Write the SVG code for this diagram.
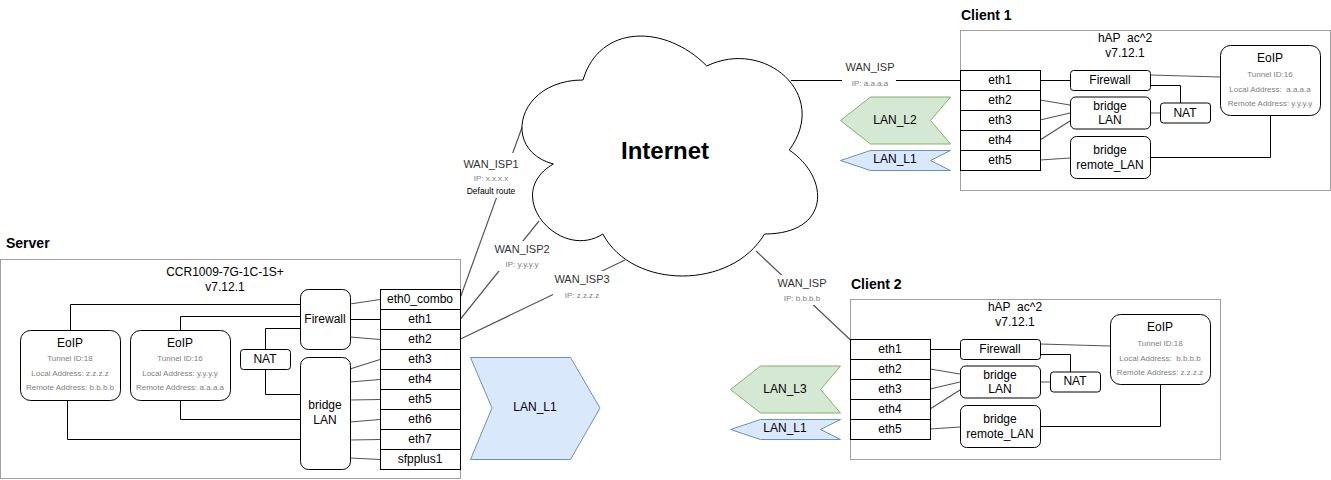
<svg xmlns="http://www.w3.org/2000/svg" width="1331" height="480" viewBox="0 0 1331 480">
<style>
text{font-family:"Liberation Sans",Arial,sans-serif;text-anchor:middle;dominant-baseline:central;fill:#000;font-size:12px;white-space:pre}
.t{font-weight:700;font-size:14px;text-anchor:start}
.net{font-weight:700;font-size:24px}
.w{font-size:11px;fill:#333}
.s{font-size:8px;fill:#808080}
.k{font-size:8.500px;fill:#000}
.box{fill:#fff;stroke:#000;stroke-width:1}
.r{fill:#fff;stroke:#000;stroke-width:1}
.frame{fill:#fff;stroke:#a0a0a0;stroke-width:1}
.c{fill:none;stroke:#000;stroke-width:1}
.d{fill:none;stroke:#555;stroke-width:1.200}
.blue{fill:#dae8fc;stroke:#6c8ebf}
.green{fill:#d5e8d4;stroke:#82b366}
.bg{fill:#fff;stroke:none}
</style>
<g id="frames">
<rect class="frame" x="0.500" y="259.500" width="460" height="219"/>
<rect class="frame" x="960.500" y="30.500" width="370" height="160"/>
<rect class="frame" x="850.500" y="299.500" width="370" height="160"/>
</g>
<g id="connectors">
<path class="d" d="M460.500 297L524 122M460.500 319L539 221M460.500 339L625 260M756 251L850.500 340"/>
<path class="c" d="M791 80.500H960.500"/>
<rect class="bg" x="462" y="153" width="60" height="45"/>
<rect class="bg" x="493" y="241" width="58" height="30"/>
<rect class="bg" x="553" y="271" width="58" height="30"/>
<rect class="bg" x="775" y="275" width="54" height="30"/>
<rect class="bg" x="842" y="60" width="54" height="30"/>
<path class="c" d="M300.500 304.500H70.500V330M300.500 316.500H180.500V330M300.500 328.500H265.500V350M265.500 370V394.500H300.500M180.500 400V419.500H300.500M67.500 400V439.500H300.500"/>
<path class="d" d="M350 304L380 299.500M350 337L380 339.500M350 369L380 359.500M350 382L380 379.500M350 400L380 399.500M350 422L380 419.500M350 440L380 439.500M350 458L380 459.500"/>
<path class="c" d="M350 319.500H380"/>
<g id="c1-links">
<path class="c" d="M1040 80.500H1070M1150 85.500H1180.500V103M1150 157.500H1270.500V116"/>
<path class="d" d="M1150 75L1220 77M1150 113L1160 113M1040 100L1070 105M1040 120L1070 113M1040 140L1070 121M1040 160L1070 158"/>
</g>
<g id="c2-links">
<path class="c" d="M930 349.500H960M1040 354.500H1070.500V372M1040 426.500H1160.500V385"/>
<path class="d" d="M1040 344L1110 346M1040 382L1050 382M930 369L960 374M930 389L960 382M930 409L960 390M930 429L960 427"/>
</g>
</g>
<g id="cloud">
<path class="box" d="M583 80C517 80 500.500 150 553.300 164C500.500 194.800 559.900 262 602.800 234C632.500 290 731.500 290 764.500 234C830.500 234 830.500 178 789.250 150C830.500 94 764.500 38 706.750 66C665.500 24 599.500 24 583 80Z"/>
<text class="net" x="665" y="150">Internet</text>
</g>
<g id="edge-labels">
<text class="w" x="491" y="164">WAN_ISP1</text><text class="s" x="491" y="178">IP: x.x.x.x</text><text class="k" x="491" y="191">Default route</text>
<text class="w" x="522" y="249">WAN_ISP2</text><text class="s" x="522" y="264">IP: y.y.y.y</text>
<text class="w" x="582" y="279">WAN_ISP3</text><text class="s" x="582" y="295">IP: z.z.z.z</text>
<text class="w" x="802" y="283">WAN_ISP</text><text class="s" x="802" y="298">IP: b.b.b.b</text>
<text class="w" x="870" y="67">WAN_ISP</text><text class="s" x="870" y="83">IP: a.a.a.a</text>
</g>
<g id="server">
<text class="t" x="6" y="243">Server</text>
<text x="225" y="272">CCR1009-7G-1C-1S+</text><text x="225" y="287">v7.12.1</text>
</g>
<g id="srv-firewall"><rect class="r" x="300.500" y="289.500" width="50" height="60" rx="8"/><text x="325" y="319">Firewall</text></g>
<g id="srv-bridge"><rect class="r" x="300.500" y="357.500" width="50" height="112" rx="8"/><text x="325" y="405">bridge</text><text x="325" y="420">LAN</text></g>
<g id="srv-nat"><rect class="r" x="240.500" y="349.500" width="50" height="20" rx="3"/><text x="265" y="359">NAT</text></g>
<g id="srv-eoip1"><rect class="r" x="20.500" y="330.500" width="100" height="70" rx="10"/><text x="70" y="343">EoIP</text><text class="s" x="70" y="358">Tunnel ID:18</text><text class="s" x="70" y="373">Local Address: z.z.z.z</text><text class="s" x="70" y="387">Remote Address: b.b.b.b</text></g>
<g id="srv-eoip2"><rect class="r" x="130.500" y="330.500" width="100" height="70" rx="10"/><text x="180" y="343">EoIP</text><text class="s" x="180" y="358">Tunnel ID:16</text><text class="s" x="180" y="373">Local Address: y.y.y.y</text><text class="s" x="180" y="387">Remote Address: a.a.a.a</text></g>
<g id="srv-ports">
<rect class="box" x="380.500" y="289.500" width="80" height="20"/><text x="420" y="299">eth0_combo</text>
<rect class="box" x="380.500" y="309.500" width="80" height="20"/><text x="420" y="319">eth1</text>
<rect class="box" x="380.500" y="329.500" width="80" height="20"/><text x="420" y="339">eth2</text>
<rect class="box" x="380.500" y="349.500" width="80" height="20"/><text x="420" y="359">eth3</text>
<rect class="box" x="380.500" y="369.500" width="80" height="20"/><text x="420" y="379">eth4</text>
<rect class="box" x="380.500" y="389.500" width="80" height="20"/><text x="420" y="399">eth5</text>
<rect class="box" x="380.500" y="409.500" width="80" height="20"/><text x="420" y="419">eth6</text>
<rect class="box" x="380.500" y="429.500" width="80" height="20"/><text x="420" y="439">eth7</text>
<rect class="box" x="380.500" y="449.500" width="80" height="20"/><text x="420" y="459">sfpplus1</text>
</g>
<g id="srv-lan-l1"><path class="blue" d="M470.500 357.500H570.500L600 408L570.500 459.500H470.500L492 408Z"/><text x="535" y="407">LAN_L1</text></g>
<g id="client1">
<text class="t" x="961" y="15">Client 1</text>
<text x="1125" y="38">hAP  ac^2</text><text x="1125" y="53">v7.12.1</text>
</g>
<g id="c1-ports">
<rect class="box" x="960.500" y="70.500" width="80" height="20"/><text x="1000" y="80">eth1</text>
<rect class="box" x="960.500" y="90.500" width="80" height="20"/><text x="1000" y="100">eth2</text>
<rect class="box" x="960.500" y="110.500" width="80" height="20"/><text x="1000" y="120">eth3</text>
<rect class="box" x="960.500" y="130.500" width="80" height="20"/><text x="1000" y="140">eth4</text>
<rect class="box" x="960.500" y="150.500" width="80" height="20"/><text x="1000" y="160">eth5</text>
</g>
<g id="c1-firewall"><rect class="r" x="1070.500" y="70.500" width="80" height="20" rx="3"/><text x="1110" y="80">Firewall</text></g>
<g id="c1-bridge"><rect class="r" x="1070.500" y="97" width="80" height="32" rx="5"/><text x="1110" y="106">bridge</text><text x="1110" y="120">LAN</text></g>
<g id="c1-remote"><rect class="r" x="1070.500" y="136.500" width="80" height="42" rx="6"/><text x="1110" y="150">bridge</text><text x="1110" y="165">remote_LAN</text></g>
<g id="c1-nat"><rect class="r" x="1160.500" y="103" width="50" height="20" rx="3"/><text x="1185" y="113">NAT</text></g>
<g id="c1-eoip"><rect class="r" x="1220.500" y="45.500" width="100" height="70" rx="10"/><text x="1270" y="58">EoIP</text><text class="s" x="1270" y="74">Tunnel ID:16</text><text class="s" x="1270" y="89">Local Address:  a.a.a.a</text><text class="s" x="1270" y="103">Remote Address: y.y.y.y</text></g>
<g id="c1-lan-l2"><path class="green" d="M950.500 97H870.500L840.500 120.500L870.500 144H950.500L930.500 120.500Z"/><text x="895" y="120">LAN_L2</text></g>
<g id="c1-lan-l1"><path class="blue" d="M950.500 150.500H870.500L840.500 160.500L870.500 170.500H950.500L930.500 160.500Z"/><text x="895" y="159">LAN_L1</text></g>
<g id="client2">
<text class="t" x="851" y="284">Client 2</text>
<text x="1015" y="307">hAP  ac^2</text><text x="1015" y="322">v7.12.1</text>
</g>
<g id="c2-ports">
<rect class="box" x="850.500" y="339.500" width="80" height="20"/><text x="890" y="349">eth1</text>
<rect class="box" x="850.500" y="359.500" width="80" height="20"/><text x="890" y="369">eth2</text>
<rect class="box" x="850.500" y="379.500" width="80" height="20"/><text x="890" y="389">eth3</text>
<rect class="box" x="850.500" y="399.500" width="80" height="20"/><text x="890" y="409">eth4</text>
<rect class="box" x="850.500" y="419.500" width="80" height="20"/><text x="890" y="429">eth5</text>
</g>
<g id="c2-firewall"><rect class="r" x="960.500" y="339.500" width="80" height="20" rx="3"/><text x="1000" y="349">Firewall</text></g>
<g id="c2-bridge"><rect class="r" x="960.500" y="366" width="80" height="32" rx="5"/><text x="1000" y="375">bridge</text><text x="1000" y="389">LAN</text></g>
<g id="c2-remote"><rect class="r" x="960.500" y="405.500" width="80" height="42" rx="6"/><text x="1000" y="419">bridge</text><text x="1000" y="434">remote_LAN</text></g>
<g id="c2-nat"><rect class="r" x="1050.500" y="372" width="50" height="20" rx="3"/><text x="1075" y="381">NAT</text></g>
<g id="c2-eoip"><rect class="r" x="1110.500" y="314.500" width="100" height="70" rx="10"/><text x="1160" y="327">EoIP</text><text class="s" x="1160" y="343">Tunnel ID:18</text><text class="s" x="1160" y="358">Local Address:  b.b.b.b</text><text class="s" x="1160" y="372">Remote Address: z.z.z.z</text></g>
<g id="c2-lan-l3"><path class="green" d="M840.500 366H760.500L730.500 389.500L760.500 413H840.500L820.500 389.500Z"/><text x="785" y="389">LAN_L3</text></g>
<g id="c2-lan-l1"><path class="blue" d="M840.500 419.500H760.500L730.500 429.500L760.500 439.500H840.500L820.500 429.500Z"/><text x="785" y="428">LAN_L1</text></g>
</svg>
